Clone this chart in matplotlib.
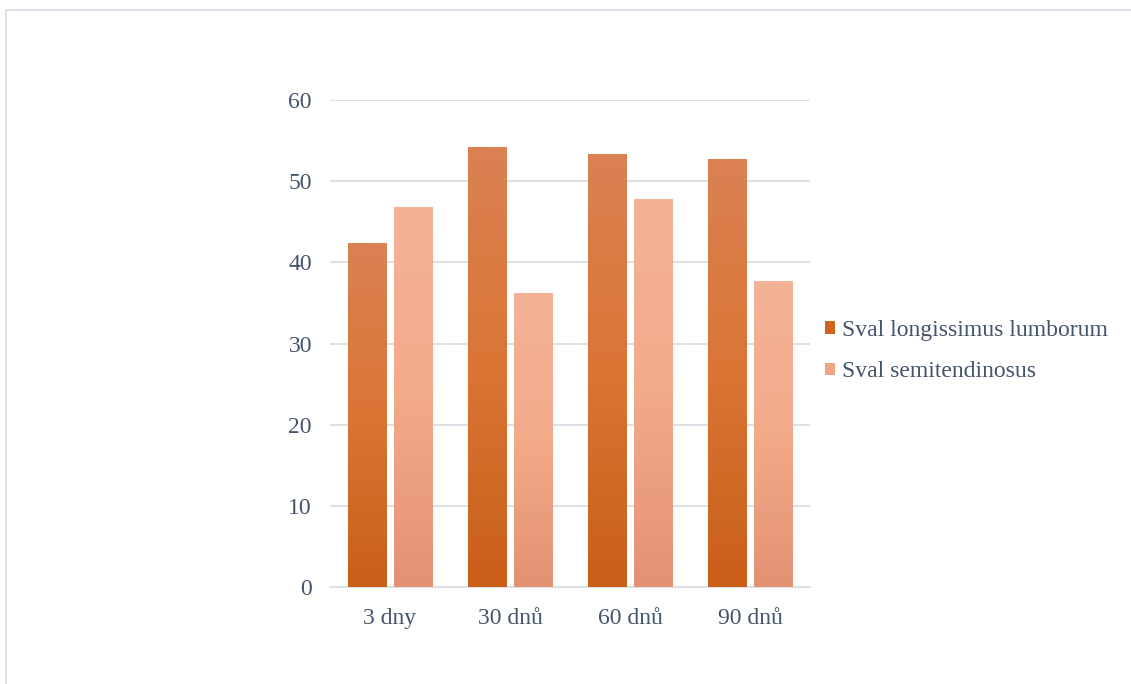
import numpy as np
import matplotlib.pyplot as plt
from matplotlib.colors import LinearSegmentedColormap
from matplotlib.patches import Patch, Rectangle

kategorie = ['3 dny', '30 dnů', '60 dnů', '90 dnů']
longissimus = [42.3, 54.1, 53.3, 52.7]
semitendinosus = [46.8, 36.2, 47.7, 37.6]
serie = ['Sval longissimus lumborum', 'Sval semitendinosus']

text_barva = '#44546A'
mrizka = '#DCE1E8'

plt.rcParams['font.family'] = ['Liberation Serif', 'DejaVu Serif']

fig = plt.figure(figsize=(11.31, 6.84), dpi=100)
ax = fig.add_axes([330 / 1131, 97 / 684, 480 / 1131, 487 / 684])

# gradient barvy (shora dolu)
cm_l = LinearSegmentedColormap.from_list('l', ['#DB8153', '#DA7535', '#C95E19'])
cm_s = LinearSegmentedColormap.from_list('s', ['#F4B297', '#F3AA89', '#E39274'])

x = np.arange(len(kategorie))
sirka = 0.317
posun = 0.19
bary_l = ax.bar(x - posun, longissimus, sirka, color='none', zorder=3)
bary_s = ax.bar(x + posun, semitendinosus, sirka, color='none', zorder=3)

grad = np.linspace(0, 1, 256).reshape(-1, 1)
for bary, cm in [(bary_l, cm_l), (bary_s, cm_s)]:
    for b in bary:
        x0 = b.get_x()
        ax.imshow(grad, cmap=cm, aspect='auto', zorder=3,
                  extent=[x0, x0 + b.get_width(), 0, b.get_height()])

ax.set_xlim(-0.5, 3.5)
ax.set_ylim(0, 60)
ax.set_yticks(range(0, 61, 10))
ax.set_xticks(x)
ax.set_xticklabels(kategorie)
ax.grid(axis='y', color=mrizka, linewidth=1.4, zorder=0)
for s in ['top', 'right', 'left']:
    ax.spines[s].set_visible(False)
ax.spines['bottom'].set_color(mrizka)
ax.spines['bottom'].set_linewidth(1.4)
ax.tick_params(axis='both', length=0, labelsize=17, labelcolor=text_barva)
ax.tick_params(axis='y', pad=13)
ax.tick_params(axis='x', pad=15)

handles = [Patch(facecolor='#D0641F'), Patch(facecolor='#F0A685')]
fig.legend(handles, serie, loc='center left', bbox_to_anchor=(825 / 1131, 1 - 351 / 684),
           frameon=False, fontsize=17, labelcolor=text_barva, handlelength=0.43,
           handleheight=0.43, handletextpad=0.3, labelspacing=0.86, borderaxespad=0,
           borderpad=0)

# ramecek grafu
fig.patches.append(Rectangle((5.5 / 1131, -0.05), 1.2, 1 - 9.5 / 684 + 0.05,
                             transform=fig.transFigure, fill=False,
                             edgecolor='#DDE2EA', linewidth=1.5))

fig.savefig('out.png', dpi=100)
